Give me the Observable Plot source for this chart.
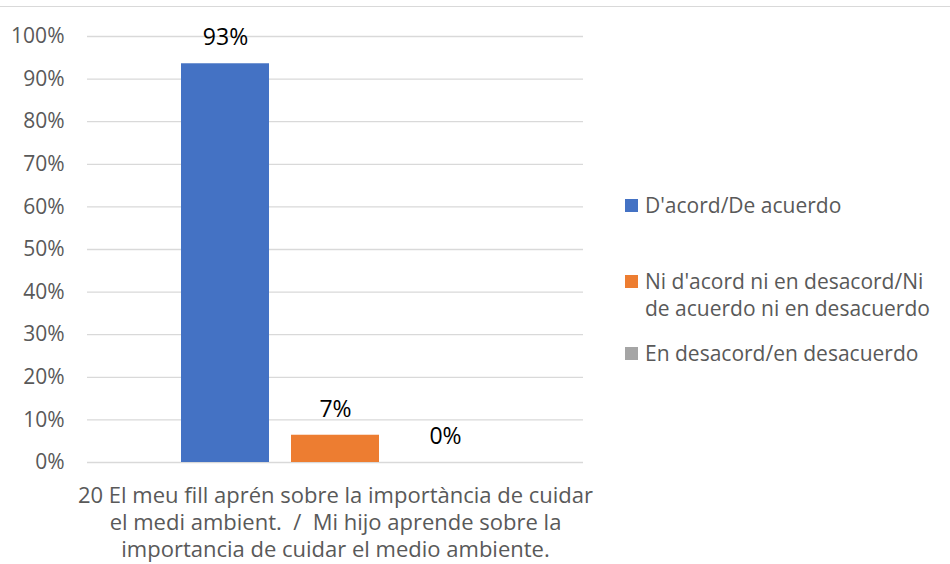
<!DOCTYPE html>
<html>
<head>
<meta charset="utf-8">
<script src="https://cdn.jsdelivr.net/npm/d3@7"></script>
<script src="https://cdn.jsdelivr.net/npm/@observablehq/plot@0.6"></script>
<style>
  html, body { margin: 0; padding: 0; background: #fff; }
  #wrap { position: relative; width: 950px; height: 564px; overflow: hidden; font-family: "Open Sans", sans-serif; }
  #topline { position: absolute; left: 0; top: 6px; width: 950px; height: 1px; background: #d9d9d9; }
  #legend { position: absolute; left: 625px; top: 0; color: #595959; font-size: 21px; }
  .item { position: absolute; left: 0; white-space: nowrap; line-height: 26.7px; }
  .sw { position: absolute; left: 0; width: 13px; height: 13px; }
  .lab { position: absolute; left: 20px; }
</style>
</head>
<body>
<div id="wrap"><div id="topline"></div><div id="legend"></div></div>
<script>
const series = ["D'acord/De acuerdo", "Ni d'acord ni en desacord/Ni de acuerdo ni en desacuerdo", "En desacord/en desacuerdo"];
const legendLines = [["D'acord/De acuerdo"], ["Ni d'acord ni en desacord/Ni", "de acuerdo ni en desacuerdo"], ["En desacord/en desacuerdo"]];
const values = [0.936, 0.064, 0];
const valueLabels = ["93%", "7%", "0%"];
const colors = ["#4472C4", "#ED7D31", "#A5A5A5"];
const categoryLines = ["20 El meu fill aprén sobre la importància de cuidar", "el medi ambient.  /  Mi hijo aprende sobre la", "importancia de cuidar el medio ambiente."];
const yTicks = [0, 0.1, 0.2, 0.3, 0.4, 0.5, 0.6, 0.7, 0.8, 0.9, 1];

const data = series.map((s, i) => ({series: s, value: values[i], label: valueLabels[i]}));

const chart = Plot.plot({
  width: 950,
  height: 564,
  marginLeft: 87,
  marginRight: 367,
  marginTop: 36,
  marginBottom: 102,
  style: {fontFamily: "Open Sans, sans-serif", fontSize: "21px", color: "#595959", background: "transparent"},
  x: {domain: series, paddingInner: 0.2, paddingOuter: 0.8545, axis: null},
  y: {domain: [0, 1], axis: null},
  color: {domain: series, range: colors},
  marks: [
    Plot.ruleY(yTicks, {stroke: "#d9d9d9", strokeWidth: 1.3}),
    Plot.text(yTicks, {x: null, y: d => d, frameAnchor: "left", dx: -23, textAnchor: "end", text: d => Math.round(d * 100) + "%", fill: "#595959", fontSize: 21}),
    Plot.barY(data, {x: "series", y: "value", fill: "series"}),
    Plot.text(data, {x: "series", y: "value", text: "label", dy: -26, fill: "#000", fontSize: 23}),
    Plot.text([categoryLines.join("\n")], {frameAnchor: "bottom", lineAnchor: "top", dy: 21, lineHeight: 1.227, fill: "#595959", fontSize: 22, text: d => d})
  ]
});
chart.style.position = "absolute";
chart.style.left = "0";
chart.style.top = "0";
document.getElementById("wrap").appendChild(chart);

const legend = document.getElementById("legend");
const legendTops = [192, 268, 340];
series.forEach((s, i) => {
  const item = document.createElement("div");
  item.className = "item";
  item.style.top = legendTops[i] + "px";
  const sw = document.createElement("div");
  sw.className = "sw";
  sw.style.background = colors[i];
  sw.style.top = "7px";
  const lab = document.createElement("div");
  lab.className = "lab";
  lab.innerHTML = legendLines[i].join("<br>");
  item.appendChild(sw);
  item.appendChild(lab);
  legend.appendChild(item);
});
</script>
</body>
</html>
